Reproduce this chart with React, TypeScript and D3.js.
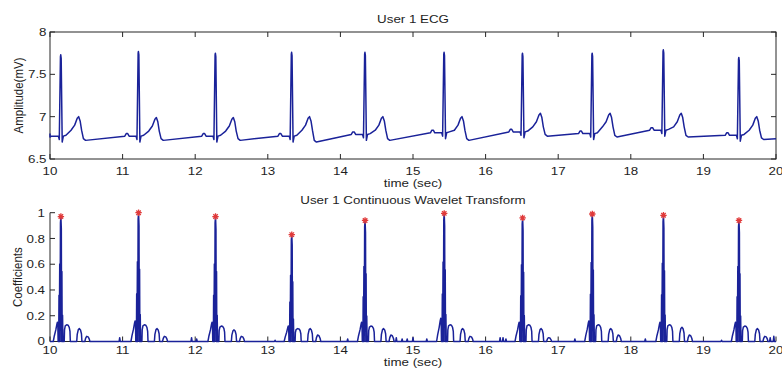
import React from 'react';
import * as d3 from 'd3';

const W = 782;
const H = 370;

// R-peak times (sec), one per heartbeat
const beatTimes = [10.15, 11.22, 12.28, 13.33, 14.34, 15.43, 16.51, 17.47, 18.45, 19.49];

// ECG panel, per beat (mV)
const rPeak = [7.73, 7.77, 7.75, 7.76, 7.76, 7.76, 7.75, 7.75, 7.79, 7.7];
const tPeak = [7.0, 6.99, 6.99, 7.0, 7.0, 7.0, 7.04, 7.04, 7.04, 7.0];
const baseLevel = [6.77, 6.77, 6.77, 6.77, 6.79, 6.81, 6.82, 6.8, 6.84, 6.78];
const troughLevel = [6.72, 6.72, 6.72, 6.7, 6.72, 6.72, 6.77, 6.76, 6.76, 6.73];
const ecgEdges = [[10, 6.76], [20, 6.74]];

// one beat: [sec from R, level it hangs off, offset mV]
const ecgShape: [number, string, number][] = [
  [-0.19, 'b', 0],
  [-0.17, 'b', 0.03],
  [-0.15, 'b', 0.03],
  [-0.13, 'b', 0],
  [-0.035, 'b', 0],
  [-0.022, 'b', -0.04],
  [-0.006, 'r', -0.02],
  [-0.002, 'r', 0],
  [0.004, 'r', -0.04],
  [0.018, 'b', -0.07],
  [0.034, 'b', 0],
  [0.07, 'b', 0.01],
  [0.14, 't', -0.16],
  [0.19, 't', -0.1],
  [0.225, 't', -0.02],
  [0.245, 't', 0],
  [0.265, 't', -0.05],
  [0.285, 't', -0.16],
  [0.31, 'd', 0.02],
  [0.34, 'd', 0],
];

// wavelet panel, per beat
const cwtPeak = [0.97, 1.0, 0.97, 0.83, 0.94, 0.995, 0.96, 0.99, 0.98, 0.94];
const cwtPre = [0.15, 0.16, 0.15, 0.12, 0.15, 0.18, 0.15, 0.16, 0.15, 0.15];
const cwtPost = [0.13, 0.13, 0.12, 0.1, 0.12, 0.13, 0.13, 0.13, 0.13, 0.12];
const cwtT = [0.1, 0.1, 0.09, 0.1, 0.1, 0.1, 0.1, 0.1, 0.11, 0.1];
const cwtTail = [0.04, 0.04, 0.04, 0.05, 0.05, 0.04, 0.03, 0.05, 0.05, 0.04];

// [sec from R, lobe, fraction of lobe height]
const cwtShape: [number, string, number][] = [
  [-0.105, 'pre', 0],
  [-0.09, 'pre', 0.3],
  [-0.07, 'pre', 0.6],
  [-0.055, 'pre', 0.9],
  [-0.048, 'pre', 1],
  [-0.042, 'pre', 0.85],
  [-0.038, 'pre', 0],
  [-0.03, 'peak', 0],
  [-0.026, 'peak', 0.37],
  [-0.022, 'peak', 0],
  [-0.016, 'peak', 0.62],
  [-0.012, 'peak', 0],
  [-0.006, 'peak', 0.95],
  [0, 'peak', 1],
  [0.006, 'peak', 0.9],
  [0.01, 'peak', 0],
  [0.014, 'peak', 0.56],
  [0.018, 'peak', 0],
  [0.023, 'peak', 0.21],
  [0.028, 'peak', 0],
  [0.046, 'post', 0],
  [0.05, 'post', 0.7],
  [0.06, 'post', 0.93],
  [0.08, 'post', 1],
  [0.1, 'post', 0.97],
  [0.115, 'post', 0.85],
  [0.125, 'post', 0.6],
  [0.13, 'post', 0],
  [0.218, 't', 0],
  [0.225, 't', 0.55],
  [0.24, 't', 0.92],
  [0.255, 't', 1],
  [0.27, 't', 0.9],
  [0.283, 't', 0.6],
  [0.29, 't', 0],
  [0.33, 'tail', 0],
  [0.34, 'tail', 0.6],
  [0.355, 'tail', 1],
  [0.375, 'tail', 0.9],
  [0.39, 'tail', 0.5],
  [0.4, 'tail', 0],
];

// small isolated bumps between beats: [time, height]
const blips = [
  [10.96, 0.03], [11.95, 0.03], [12.02, 0.02], [13.1, 0.01], [14.1, 0.02],
  [14.77, 0.03], [14.85, 0.02], [14.92, 0.02], [15.0, 0.03], [15.19, 0.02],
  [16.2, 0.03], [16.24, 0.03], [16.28, 0.02], [17.23, 0.02], [18.2, 0.02],
  [19.25, 0.01], [19.92, 0.03], [19.97, 0.04],
];

const xTicks = [10, 11, 12, 13, 14, 15, 16, 17, 18, 19, 20];
const ecgTicks = [6.5, 7, 7.5, 8];
const cwtTicks = [0, 0.2, 0.4, 0.6, 0.8, 1];

const lineColor = '#1a2299';
const axisColor = '#262626';
const font = '"Liberation Sans", Arial, sans-serif';
const stretch = 1.16;

function ecgPoints() {
  const levels: Record<string, number[]> = { b: baseLevel, r: rPeak, t: tPeak, d: troughLevel };
  const pts: number[][] = [];
  beatTimes.forEach((bt, i) => {
    ecgShape.forEach(([dt, ref, dv]) => pts.push([bt + dt, levels[ref][i] + dv]));
  });
  pts.push(...ecgEdges);
  return pts.filter(p => p[0] >= 10 && p[0] <= 20).sort((a, b) => a[0] - b[0]);
}

function cwtPoints() {
  const lobes: Record<string, number[]> = { pre: cwtPre, peak: cwtPeak, post: cwtPost, t: cwtT, tail: cwtTail };
  const pts: number[][] = [[10, 0], [20, 0]];
  beatTimes.forEach((bt, i) => {
    cwtShape.forEach(([dt, ref, f]) => pts.push([bt + dt, lobes[ref][i] * f]));
  });
  blips.forEach(([t, h]) => {
    pts.push([t - 0.008, 0], [t, h], [t + 0.008, 0]);
  });
  return pts.filter(p => p[0] >= 10 && p[0] <= 20).sort((a, b) => a[0] - b[0]);
}

function Txt({ x, y, children, anchor = 'middle', rotate = false, size = 11.5 }: any) {
  const tr = rotate
    ? `translate(${x},${y}) rotate(-90) scale(1,${stretch})`
    : `translate(${x},${y}) scale(${stretch},1)`;
  return (
    <text transform={tr} textAnchor={anchor} fontFamily={font} fontSize={size} fill="#1e1e1e">
      {children}
    </text>
  );
}

export default function App() {
  const left = 50, right = 776;
  const x = d3.scaleLinear().domain([10, 20]).range([left, right]);
  const yE = d3.scaleLinear().domain([6.5, 8]).range([159, 32]);
  const yC = d3.scaleLinear().domain([0, 1]).range([341.5, 212.7]);
  const tk = 5;

  const ecgLine = d3.line<number[]>().x(d => x(d[0])).y(d => yE(d[1]));
  const cwtLine = d3.line<number[]>().x(d => x(d[0])).y(d => yC(d[1]));

  const star = (cx: number, cy: number) => {
    const r = 3.2;
    const a = r * 0.7;
    return `M${cx - r},${cy}L${cx + r},${cy}M${cx},${cy - r}L${cx},${cy + r}M${cx - a},${cy - a}L${cx + a},${cy + a}M${cx - a},${cy + a}L${cx + a},${cy - a}`;
  };

  return (
    <svg width={W} height={H} style={{ position: 'absolute', left: 0, top: 0, background: '#fff' }}>
      {/* ECG panel */}
      <Txt x={413} y={23.3}>User 1 ECG</Txt>
      <rect x={left} y={yE(8)} width={right - left} height={yE(6.5) - yE(8)} fill="none" stroke={axisColor} strokeWidth={1} />
      {xTicks.map(v => (
        <g key={'ex' + v}>
          <line x1={x(v)} x2={x(v)} y1={yE(6.5)} y2={yE(6.5) - tk} stroke={axisColor} />
          <line x1={x(v)} x2={x(v)} y1={yE(8)} y2={yE(8) + tk} stroke={axisColor} />
          <Txt x={x(v)} y={174.5}>{v}</Txt>
        </g>
      ))}
      {ecgTicks.map(v => (
        <g key={'ey' + v}>
          <line x1={left} x2={left + tk} y1={yE(v)} y2={yE(v)} stroke={axisColor} />
          <line x1={right} x2={right - tk} y1={yE(v)} y2={yE(v)} stroke={axisColor} />
          <Txt x={46.5} y={yE(v) + 4.1} anchor="end">{v}</Txt>
        </g>
      ))}
      <Txt x={23} y={(yE(8) + yE(6.5)) / 2} rotate>Amplitude(mV)</Txt>
      <Txt x={413} y={187}>time (sec)</Txt>
      <path d={ecgLine(ecgPoints()) || ''} fill="none" stroke={lineColor} strokeWidth={1.5} strokeLinejoin="round" />

      {/* wavelet panel */}
      <Txt x={413} y={204.3}>User 1 Continuous Wavelet Transform</Txt>
      <line x1={left} x2={left} y1={yC(1)} y2={yC(0)} stroke={axisColor} />
      <line x1={left} x2={right} y1={yC(0)} y2={yC(0)} stroke={axisColor} />
      {xTicks.map(v => (
        <g key={'cx' + v}>
          <line x1={x(v)} x2={x(v)} y1={yC(0)} y2={yC(0) - tk} stroke={axisColor} />
          <Txt x={x(v)} y={354}>{v}</Txt>
        </g>
      ))}
      {cwtTicks.map(v => (
        <g key={'cy' + v}>
          <line x1={left} x2={left + tk} y1={yC(v)} y2={yC(v)} stroke={axisColor} />
          <Txt x={45} y={yC(v) + (v === 0 ? 3 : 4.1)} anchor="end">{v}</Txt>
        </g>
      ))}
      <Txt x={21.5} y={(yC(1) + yC(0)) / 2} rotate>Coefficients</Txt>
      <Txt x={413} y={366}>time (sec)</Txt>
      <path d={cwtLine(cwtPoints()) || ''} fill="none" stroke={lineColor} strokeWidth={1.5} strokeLinejoin="round" />
      {beatTimes.map((t, i) => (
        <path key={'st' + i} d={star(x(t), yC(cwtPeak[i]))} stroke="#e03a3a" strokeWidth={1.3} fill="none" />
      ))}
    </svg>
  );
}
